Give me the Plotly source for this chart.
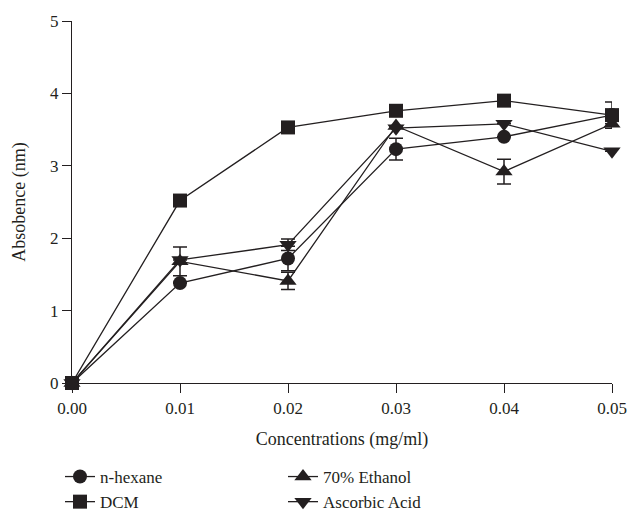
import plotly.graph_objects as go

conc = [0.00, 0.01, 0.02, 0.03, 0.04, 0.05]
x_ticks = [0.00, 0.01, 0.02, 0.03, 0.04, 0.05]
x_tick_labels = ["0.00", "0.01", "0.02", "0.03", "0.04", "0.05"]

hexane = [0.0, 1.38, 1.72, 3.23, 3.40, 3.70]
hexane_err = [0, 0, 0.17, 0.15, 0, 0]
dcm = [0.0, 2.52, 3.53, 3.76, 3.90, 3.70]
dcm_err = [0, 0, 0.07, 0, 0, 0.18]
ethanol = [0.0, 1.68, 1.41, 3.55, 2.92, 3.58]
ethanol_err = [0, 0.2, 0.12, 0, 0.17, 0]
ascorbic = [0.0, 1.70, 1.91, 3.52, 3.58, 3.20]
ascorbic_err = [0, 0, 0.08, 0, 0, 0]

INK = "#231f20"
FONT = "Liberation Serif"

series = [
    ("n-hexane", hexane, hexane_err, "circle", 14),
    ("70% Ethanol", ethanol, ethanol_err, "triangle-up", 15),
    ("DCM", dcm, dcm_err, "square", 14),
    ("Ascorbic Acid", ascorbic, ascorbic_err, "triangle-down", 15),
]

fig = go.Figure()
for name, vals, err, sym, sz in series:
    fig.add_trace(go.Scatter(
        x=conc, y=vals, name=name, mode="lines+markers",
        line=dict(color=INK, width=1.3),
        marker=dict(symbol=sym, size=sz, color=INK),
        error_y=dict(type="data", array=err, visible=True, color=INK,
                     thickness=1.5, width=7),
        cliponaxis=False,
    ))

fig.update_layout(
    width=630, height=517,
    margin=dict(l=72, r=18, t=21, b=134),
    plot_bgcolor="white", paper_bgcolor="white",
    font=dict(family=FONT, size=17, color=INK),
    xaxis=dict(
        range=[0, 0.05], tickvals=x_ticks, ticktext=x_tick_labels,
        showline=True, linecolor=INK, linewidth=1.3,
        ticks="outside", ticklen=9, tickwidth=1.3, tickcolor=INK,
        showgrid=False, zeroline=False, automargin=False,
        tickfont=dict(size=17),
        title=dict(text="Concentrations (mg/ml)", standoff=15, font=dict(size=18)),
    ),
    yaxis=dict(
        range=[0, 5], dtick=1,
        showline=True, linecolor=INK, linewidth=1.3,
        ticks="outside", ticklen=9, tickwidth=1.3, tickcolor=INK,
        showgrid=False, zeroline=False, automargin=False,
        tickfont=dict(size=17),
        title=dict(text="Absobence (nm)", standoff=19, font=dict(size=18)),
    ),
    legend=dict(
        orientation="h", xref="container", yref="container",
        x=60/630, y=1 - 459/517, xanchor="left", yanchor="top",
        entrywidth=178, entrywidthmode="pixels",
        font=dict(family=FONT, size=17, color=INK),
        traceorder="normal",
    ),
    showlegend=True,
)

fig.write_html(
    "out.html",
    config={"displayModeBar": False},
    post_script="document.body.style.margin='0';document.body.style.overflow='hidden';",
)
